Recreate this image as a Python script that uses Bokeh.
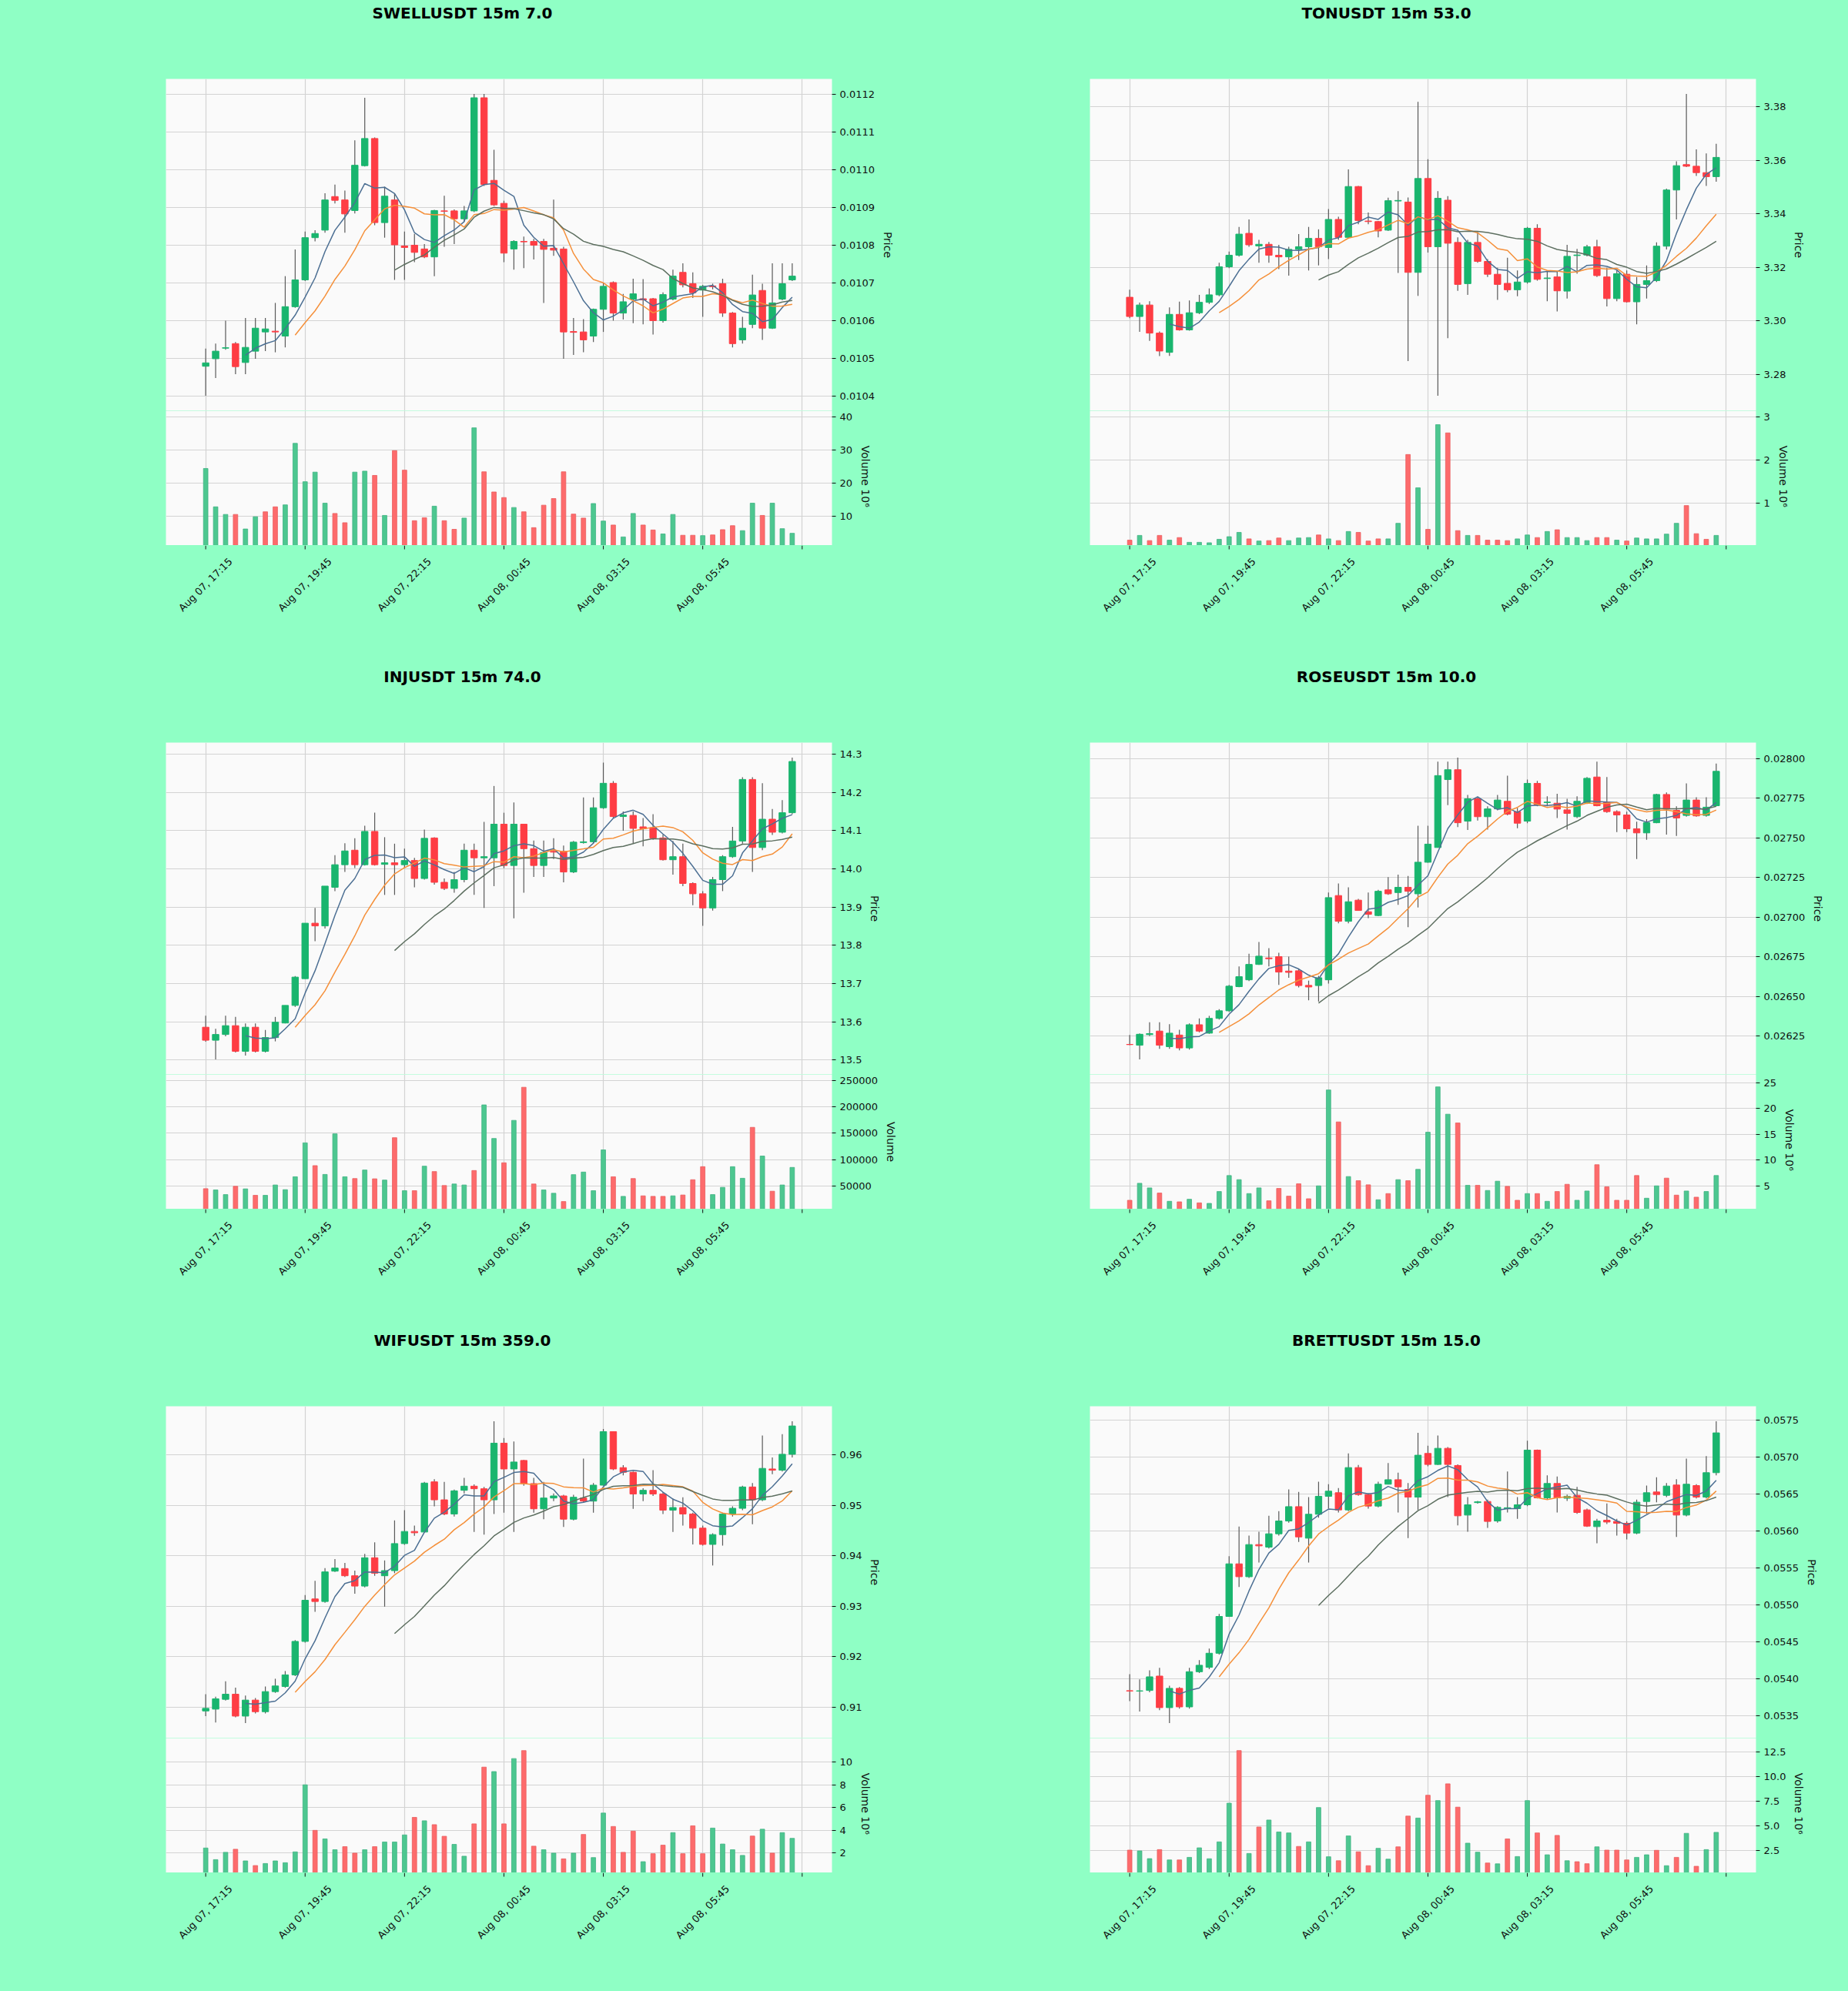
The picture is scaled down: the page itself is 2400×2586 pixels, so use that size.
import math
import numpy as np
import pandas as pd
from bokeh.plotting import figure
from bokeh.layouts import row, column
from bokeh.models import FixedTicker, Range1d, PrintfTickFormatter, ColumnDataSource
from bokeh.embed import file_html
from bokeh.resources import INLINE
from bokeh.core.properties import value

# ---------------- data ----------------
x_tick_positions = [0, 10, 20, 30, 40, 50, 60]
x_tick_labels = ["Aug 07, 17:15", "Aug 07, 19:45", "Aug 07, 22:15", "Aug 08, 00:45",
                 "Aug 08, 03:15", "Aug 08, 05:45", ""]

titles = ["SWELLUSDT 15m 7.0", "TONUSDT 15m 53.0", "INJUSDT 15m 74.0",
          "ROSEUSDT 15m 10.0", "WIFUSDT 15m 359.0", "BRETTUSDT 15m 15.0"]

swell_open = [0.010479, 0.010499, 0.010527, 0.010539, 0.010489, 0.010519, 0.010570, 0.010572, 0.010559, 0.010637,
              0.010708, 0.010820, 0.010840, 0.010929, 0.010920, 0.010892, 0.011011, 0.011083, 0.010860, 0.010920,
              0.010798, 0.010800, 0.010790, 0.010769, 0.010891, 0.010891, 0.010870, 0.010891, 0.011191, 0.010972,
              0.010911, 0.010790, 0.010810, 0.010810, 0.010810, 0.010792, 0.010790, 0.010571, 0.010570, 0.010559,
              0.010630, 0.010701, 0.010620, 0.010657, 0.010658, 0.010658, 0.010600, 0.010657, 0.010728, 0.010698,
              0.010681, 0.010692, 0.010698, 0.010620, 0.010549, 0.010590, 0.010680, 0.010580, 0.010657, 0.010708]
swell_high = [0.010526, 0.010539, 0.010600, 0.010543, 0.010607, 0.010607, 0.010607, 0.010647, 0.010718, 0.010789,
              0.010836, 0.010840, 0.010938, 0.010961, 0.010945, 0.011078, 0.011191, 0.011086, 0.010955, 0.010938,
              0.010836, 0.010830, 0.010803, 0.010894, 0.010931, 0.010895, 0.010904, 0.011201, 0.011201, 0.011053,
              0.010918, 0.010813, 0.010823, 0.010817, 0.010817, 0.010921, 0.010796, 0.010607, 0.010604, 0.010632,
              0.010701, 0.010704, 0.010671, 0.010711, 0.010710, 0.010660, 0.010675, 0.010735, 0.010752, 0.010728,
              0.010695, 0.010698, 0.010711, 0.010623, 0.010610, 0.010722, 0.010698, 0.010752, 0.010752, 0.010752]
swell_low = [0.010401, 0.010448, 0.010523, 0.010458, 0.010458, 0.010499, 0.010519, 0.010516, 0.010529, 0.010634,
             0.010705, 0.010810, 0.010833, 0.010911, 0.010833, 0.010884, 0.011009, 0.010853, 0.010820, 0.010708,
             0.010708, 0.010755, 0.010766, 0.010718, 0.010796, 0.010803, 0.010863, 0.010888, 0.010957, 0.010904,
             0.010755, 0.010735, 0.010739, 0.010762, 0.010647, 0.010772, 0.010499, 0.010509, 0.010516, 0.010543,
             0.010570, 0.010600, 0.010603, 0.010593, 0.010590, 0.010563, 0.010595, 0.010654, 0.010688, 0.010660,
             0.010610, 0.010683, 0.010610, 0.010529, 0.010539, 0.010580, 0.010549, 0.010578, 0.010654, 0.010705]
swell_close = [0.010488, 0.010519, 0.010528, 0.010478, 0.010529, 0.010580, 0.010578, 0.010570, 0.010637, 0.010708,
               0.010820, 0.010831, 0.010920, 0.010919, 0.010883, 0.011012, 0.011083, 0.010860, 0.010930, 0.010801,
               0.010794, 0.010781, 0.010769, 0.010892, 0.010890, 0.010870, 0.010891, 0.011191, 0.010961, 0.010907,
               0.010779, 0.010810, 0.010809, 0.010800, 0.010789, 0.010787, 0.010570, 0.010569, 0.010549, 0.010630,
               0.010691, 0.010620, 0.010650, 0.010671, 0.010655, 0.010600, 0.010669, 0.010718, 0.010695, 0.010674,
               0.010691, 0.010690, 0.010620, 0.010539, 0.010580, 0.010668, 0.010580, 0.010647, 0.010698, 0.010718]
swell_volume_m = [24.4, 12.8, 10.5, 10.5, 6.1, 9.8, 11.3, 12.8, 13.4, 32.0, 20.4, 23.3, 13.9, 10.8, 8.0, 23.3, 23.6, 22.3,
                  10.2, 29.8, 23.9, 8.6, 9.5, 13.0, 8.6, 6.0, 9.4, 36.7, 23.4, 17.3, 15.6, 12.6, 11.3, 6.5, 13.3, 15.3,
                  23.4, 10.6, 9.4, 13.8, 8.5, 7.3, 3.7, 10.8, 7.3, 5.8, 4.6, 10.5, 4.2, 4.2, 4.1, 4.3, 5.9, 7.1, 5.6,
                  13.9, 10.2, 13.9, 6.2, 4.8]

ton_open = [3.3088, 3.3016, 3.3059, 3.2954, 3.2882, 3.3024, 3.2966, 3.3030, 3.3069, 3.3097,
            3.3202, 3.3245, 3.3327, 3.3280, 3.3286, 3.3245, 3.3239, 3.3267, 3.3277, 3.3308,
            3.3274, 3.3379, 3.3312, 3.3502, 3.3373, 3.3371, 3.3339, 3.3448, 3.3444, 3.3181,
            3.3532, 3.3277, 3.3451, 3.3293, 3.3139, 3.3293, 3.3222, 3.3174, 3.3140, 3.3116,
            3.3145, 3.3346, 3.3158, 3.3164, 3.3111, 3.3244, 3.3246, 3.3277, 3.3164, 3.3083,
            3.3174, 3.3071, 3.3136, 3.3150, 3.3279, 3.3489, 3.3584, 3.3578, 3.3554, 3.3539]
ton_high = [3.3116, 3.3068, 3.3073, 3.2960, 3.3050, 3.3072, 3.3076, 3.3097, 3.3121, 3.3217,
            3.3259, 3.3351, 3.3379, 3.3303, 3.3295, 3.3284, 3.3277, 3.3324, 3.3351, 3.3342,
            3.3418, 3.3389, 3.3566, 3.3504, 3.3405, 3.3373, 3.3460, 3.3485, 3.3461, 3.3819,
            3.3604, 3.3485, 3.3466, 3.3312, 3.3303, 3.3332, 3.3231, 3.3198, 3.3236, 3.3188,
            3.3351, 3.3361, 3.3183, 3.3183, 3.3284, 3.3269, 3.3284, 3.3303, 3.3198, 3.3188,
            3.3188, 3.3164, 3.3207, 3.3293, 3.3494, 3.3596, 3.3848, 3.3641, 3.3626, 3.3662]
ton_low = [3.3010, 3.2959, 3.2925, 3.2868, 3.2869, 3.2963, 3.2963, 3.3025, 3.3063, 3.3092,
           3.3197, 3.3240, 3.3277, 3.3217, 3.3217, 3.3193, 3.3169, 3.3227, 3.3188, 3.3207,
           3.3231, 3.3303, 3.3307, 3.3361, 3.3361, 3.3312, 3.3336, 3.3179, 3.2849, 3.3093,
           3.3255, 3.2720, 3.2935, 3.3112, 3.3097, 3.3217, 3.3164, 3.3078, 3.3107, 3.3092,
           3.3139, 3.3150, 3.3073, 3.3035, 3.3083, 3.3176, 3.3241, 3.3164, 3.3054, 3.3073,
           3.3068, 3.2987, 3.3083, 3.3145, 3.3267, 3.3379, 3.3575, 3.3542, 3.3504, 3.3520]
ton_close = [3.3016, 3.3059, 3.2954, 3.2887, 3.3024, 3.2966, 3.3030, 3.3069, 3.3097, 3.3202,
             3.3245, 3.3324, 3.3284, 3.3286, 3.3245, 3.3239, 3.3267, 3.3277, 3.3308, 3.3277,
             3.3379, 3.3312, 3.3502, 3.3375, 3.3371, 3.3336, 3.3449, 3.3450, 3.3181, 3.3532,
             3.3277, 3.3458, 3.3290, 3.3136, 3.3293, 3.3222, 3.3174, 3.3136, 3.3116, 3.3145,
             3.3346, 3.3155, 3.3160, 3.3112, 3.3241, 3.3246, 3.3277, 3.3169, 3.3083, 3.3176,
             3.3071, 3.3136, 3.3150, 3.3279, 3.3489, 3.3580, 3.3578, 3.3554, 3.3539, 3.3611]
ton_volume_m = [0.15, 0.26, 0.14, 0.26, 0.15, 0.21, 0.10, 0.10, 0.09, 0.17, 0.23, 0.33, 0.18, 0.13, 0.14, 0.20, 0.14,
                0.20, 0.21, 0.27, 0.18, 0.14, 0.35, 0.33, 0.13, 0.18, 0.18, 0.54, 2.13, 1.36, 0.40, 2.82, 2.63, 0.37,
                0.26, 0.26, 0.15, 0.15, 0.14, 0.18, 0.27, 0.21, 0.35, 0.39, 0.21, 0.21, 0.14, 0.21, 0.21, 0.15, 0.13,
                0.20, 0.18, 0.18, 0.29, 0.54, 0.95, 0.30, 0.17, 0.26]

inj_open = [13.586, 13.552, 13.567, 13.590, 13.523, 13.586, 13.523, 13.559, 13.597, 13.643,
            13.713, 13.858, 13.851, 13.952, 14.011, 14.049, 14.011, 14.098, 14.012, 14.016,
            14.011, 14.022, 13.975, 14.081, 13.965, 13.949, 13.972, 14.049, 14.029, 14.029,
            14.117, 14.009, 14.117, 14.053, 14.009, 14.046, 14.046, 13.992, 14.069, 14.071,
            14.160, 14.224, 14.137, 14.140, 14.110, 14.108, 14.081, 14.024, 14.032, 13.962,
            13.935, 13.898, 13.972, 14.032, 14.073, 14.234, 14.056, 14.130, 14.096, 14.147]
inj_high = [13.616, 13.582, 13.616, 13.613, 13.596, 13.596, 13.579, 13.613, 13.643, 13.720,
            13.858, 13.898, 13.955, 14.036, 14.067, 14.080, 14.113, 14.147, 14.083, 14.066,
            14.053, 14.029, 14.103, 14.083, 13.975, 13.992, 14.066, 14.066, 14.123, 14.217,
            14.147, 14.174, 14.117, 14.074, 14.074, 14.080, 14.061, 14.073, 14.187, 14.187,
            14.278, 14.230, 14.150, 14.150, 14.133, 14.143, 14.090, 14.073, 14.066, 13.965,
            13.942, 13.979, 14.036, 14.110, 14.240, 14.240, 14.224, 14.157, 14.180, 14.291]
inj_low = [13.548, 13.502, 13.562, 13.520, 13.512, 13.520, 13.520, 13.549, 13.596, 13.639,
           13.713, 13.811, 13.844, 13.942, 13.992, 14.002, 14.009, 14.009, 13.932, 13.932,
           14.002, 13.952, 13.972, 13.959, 13.945, 13.938, 13.965, 13.932, 13.898, 13.955,
           14.002, 13.871, 13.938, 13.979, 13.979, 14.026, 13.965, 13.989, 14.066, 14.066,
           14.157, 14.133, 14.100, 14.066, 14.059, 14.076, 14.022, 13.985, 13.955, 13.905,
           13.851, 13.891, 13.942, 14.029, 14.066, 13.992, 14.049, 14.089, 14.093, 14.143]
inj_close = [13.552, 13.567, 13.590, 13.523, 13.586, 13.523, 13.559, 13.599, 13.643, 13.717,
             13.858, 13.851, 13.955, 14.011, 14.047, 14.011, 14.098, 14.011, 14.016, 14.011,
             14.022, 13.975, 14.080, 13.965, 13.949, 13.972, 14.049, 14.029, 14.032, 14.117,
             14.009, 14.117, 14.053, 14.009, 14.043, 14.044, 13.992, 14.070, 14.071, 14.160,
             14.224, 14.137, 14.141, 14.106, 14.105, 14.081, 14.024, 14.032, 13.962, 13.935,
             13.898, 13.972, 14.032, 14.073, 14.234, 14.056, 14.130, 14.096, 14.147, 14.281]
inj_volume = [45000, 42600, 33800, 49500, 44600, 32400, 32400, 52000, 43100, 67600, 131900, 88700, 72000, 149000,
              67600, 64200, 80400, 63700, 61300, 141700, 41200, 41200, 87700, 77500, 51000, 53900, 52000, 79400,
              203900, 140200, 94100, 174500, 237300, 53900, 42600, 36300, 20600, 71600, 76500, 41200, 118600, 67600,
              30400, 64200, 31400, 30400, 30400, 31400, 33000, 62000, 86700, 33800, 47500, 86700, 64700, 161300,
              106900, 40200, 52000, 85300]

rose_open = [0.026198, 0.026193, 0.026260, 0.026282, 0.026184, 0.026257, 0.026176, 0.026322, 0.026269, 0.026362,
             0.026410, 0.026562, 0.026605, 0.026702, 0.026743, 0.026751, 0.026660, 0.026662, 0.026570, 0.026569,
             0.026605, 0.027136, 0.026974, 0.027107, 0.027034, 0.027010, 0.027172, 0.027155, 0.027188, 0.027147,
             0.027346, 0.027439, 0.027867, 0.027929, 0.027605, 0.027746, 0.027633, 0.027682, 0.027730, 0.027665,
             0.027605, 0.027843, 0.027722, 0.027718, 0.027676, 0.027633, 0.027722, 0.027883, 0.027725, 0.027665,
             0.027644, 0.027557, 0.027531, 0.027595, 0.027773, 0.027673, 0.027641, 0.027738, 0.027641, 0.027702]
rose_high = [0.026257, 0.026267, 0.026338, 0.026338, 0.026325, 0.026290, 0.026330, 0.026362, 0.026378, 0.026420,
             0.026573, 0.026689, 0.026770, 0.026843, 0.026805, 0.026775, 0.026751, 0.026676, 0.026600, 0.026630,
             0.027155, 0.027212, 0.027188, 0.027115, 0.027155, 0.027172, 0.027252, 0.027268, 0.027260, 0.027576,
             0.027576, 0.027980, 0.027980, 0.028005, 0.027770, 0.027758, 0.027699, 0.027770, 0.027892, 0.027689,
             0.027867, 0.027859, 0.027762, 0.027778, 0.027746, 0.027762, 0.027883, 0.027980, 0.027883, 0.027673,
             0.027665, 0.027601, 0.027617, 0.027778, 0.027786, 0.027699, 0.027843, 0.027755, 0.027755, 0.027968]
rose_low = [0.026193, 0.026104, 0.026250, 0.026170, 0.026170, 0.026160, 0.026165, 0.026274, 0.026265, 0.026355,
            0.026403, 0.026559, 0.026597, 0.026699, 0.026689, 0.026573, 0.026618, 0.026557, 0.026476, 0.026468,
            0.026581, 0.026961, 0.026961, 0.027042, 0.026994, 0.027006, 0.027141, 0.027077, 0.026937, 0.027061,
            0.027343, 0.027439, 0.027706, 0.027568, 0.027549, 0.027609, 0.027552, 0.027673, 0.027641, 0.027560,
            0.027592, 0.027699, 0.027699, 0.027625, 0.027552, 0.027625, 0.027713, 0.027699, 0.027657, 0.027536,
            0.027536, 0.027366, 0.027488, 0.027592, 0.027520, 0.027512, 0.027633, 0.027633, 0.027633, 0.027699]
rose_close = [0.026197, 0.026262, 0.026266, 0.026193, 0.026269, 0.026176, 0.026322, 0.026282, 0.026362, 0.026410,
              0.026565, 0.026625, 0.026702, 0.026754, 0.026738, 0.026654, 0.026652, 0.026569, 0.026560, 0.026618,
              0.027123, 0.026974, 0.027097, 0.027042, 0.027018, 0.027163, 0.027147, 0.027188, 0.027163, 0.027346,
              0.027460, 0.027892, 0.027929, 0.027595, 0.027746, 0.027633, 0.027682, 0.027738, 0.027649, 0.027592,
              0.027843, 0.027706, 0.027725, 0.027681, 0.027654, 0.027730, 0.027875, 0.027702, 0.027665, 0.027644,
              0.027557, 0.027531, 0.027595, 0.027773, 0.027681, 0.027625, 0.027738, 0.027638, 0.027693, 0.027919]
rose_volume_m = [2.2, 5.5, 4.6, 3.6, 2.0, 1.9, 2.4, 1.7, 1.6, 3.9, 7.0, 6.2, 3.5, 4.6, 2.1, 4.5, 3.0, 5.4, 2.5, 5.0,
                 23.6, 17.4, 6.8, 6.0, 5.2, 2.3, 3.5, 6.2, 6.0, 8.2, 15.4, 24.2, 18.9, 17.2, 5.1, 5.1, 4.1, 5.9, 4.9,
                 2.2, 3.5, 3.5, 2.0, 3.9, 5.3, 2.2, 4.0, 9.1, 4.8, 2.2, 2.2, 7.0, 2.6, 5.0, 6.5, 3.2, 4.0, 2.8, 3.9, 7.0]

wif_open = [0.90923, 0.90959, 0.91153, 0.91255, 0.90821, 0.91138, 0.90908, 0.91306, 0.91408, 0.91638,
            0.92301, 0.93143, 0.93092, 0.93694, 0.93745, 0.93602, 0.93398, 0.93959, 0.93602, 0.93704,
            0.94240, 0.94480, 0.94469, 0.95464, 0.95107, 0.94827, 0.95296, 0.95378, 0.95327, 0.95107,
            0.96230, 0.95719, 0.95888, 0.95429, 0.94929, 0.95143, 0.95184, 0.94724, 0.95143, 0.95082,
            0.95398, 0.96459, 0.95745, 0.95653, 0.95224, 0.95296, 0.95224, 0.94903, 0.94954, 0.94827,
            0.94546, 0.94224, 0.94418, 0.94827, 0.94939, 0.95362, 0.95107, 0.95719, 0.95694, 0.96010]
wif_high = [0.91255, 0.91204, 0.91510, 0.91383, 0.91229, 0.91179, 0.91408, 0.91561, 0.91714, 0.92327,
            0.93219, 0.93500, 0.93755, 0.93934, 0.93857, 0.93704, 0.94036, 0.94265, 0.93908, 0.94699,
            0.94903, 0.94597, 0.95464, 0.95515, 0.95464, 0.95311, 0.95541, 0.95413, 0.95362, 0.96663,
            0.96332, 0.96265, 0.95898, 0.95541, 0.95464, 0.95235, 0.95209, 0.95209, 0.95923, 0.95439,
            0.96510, 0.96459, 0.95796, 0.95668, 0.95337, 0.95694, 0.95260, 0.95133, 0.95158, 0.94852,
            0.94597, 0.94444, 0.94852, 0.94980, 0.95388, 0.95439, 0.96383, 0.95949, 0.96408, 0.96663]
wif_low = [0.90821, 0.90694, 0.91128, 0.90796, 0.90684, 0.90872, 0.90872, 0.91281, 0.91383, 0.91612,
           0.92276, 0.92888, 0.93066, 0.93679, 0.93577, 0.93245, 0.93372, 0.93602, 0.92990, 0.93653,
           0.94214, 0.94393, 0.94469, 0.94980, 0.94801, 0.94776, 0.95235, 0.94469, 0.94418, 0.94827,
           0.94852, 0.94469, 0.95388, 0.94852, 0.94724, 0.95082, 0.94571, 0.94699, 0.95056, 0.94852,
           0.95388, 0.95694, 0.95592, 0.94929, 0.95082, 0.95184, 0.94827, 0.94469, 0.94597, 0.94224,
           0.94199, 0.93806, 0.94199, 0.94776, 0.94903, 0.94622, 0.95082, 0.95617, 0.95668, 0.95949]
wif_close = [0.90974, 0.91163, 0.91255, 0.90821, 0.91138, 0.90908, 0.91306, 0.91418, 0.91638, 0.92301,
             0.93117, 0.93092, 0.93679, 0.93755, 0.93602, 0.93398, 0.93959, 0.93653, 0.93704, 0.94240,
             0.94480, 0.94454, 0.95439, 0.95107, 0.94827, 0.95286, 0.95378, 0.95327, 0.95107, 0.96230,
             0.95719, 0.95857, 0.95429, 0.94929, 0.95143, 0.95184, 0.94724, 0.95158, 0.95082, 0.95398,
             0.96459, 0.95719, 0.95653, 0.95224, 0.95296, 0.95224, 0.94903, 0.94954, 0.94827, 0.94546,
             0.94224, 0.94418, 0.94827, 0.94939, 0.95362, 0.95107, 0.95730, 0.95694, 0.96010, 0.96571]
wif_volume_m = [2.45, 1.43, 2.07, 2.34, 1.32, 0.91, 1.09, 1.32, 1.16, 2.11, 8.0, 4.0, 3.25, 2.3, 2.57, 2.0, 2.3,
                2.57, 2.98, 2.98, 3.6, 5.14, 4.84, 4.5, 3.48, 2.77, 1.73, 4.57, 9.55, 9.16, 4.57, 10.3, 11.0, 2.61,
                2.3, 2.0, 1.5, 2.0, 3.64, 1.61, 5.52, 4.34, 2.07, 3.93, 1.25, 1.95, 2.7, 3.8, 1.95, 4.4, 1.95, 4.2,
                2.8, 2.3, 1.8, 3.5, 4.1, 2.0, 3.8, 3.3]

brett_open = [0.053842, 0.053838, 0.053846, 0.054040, 0.053614, 0.053874, 0.053624, 0.054099, 0.054159, 0.054349,
              0.054846, 0.055557, 0.055383, 0.055817, 0.055783, 0.055963, 0.056136, 0.056330, 0.055904, 0.056227,
              0.056470, 0.056518, 0.056286, 0.056858, 0.056494, 0.056338, 0.056633, 0.056694, 0.056563, 0.056459,
              0.057049, 0.056900, 0.057118, 0.056886, 0.056216, 0.056385, 0.056400, 0.056136, 0.056303, 0.056303,
              0.056355, 0.057094, 0.056449, 0.056643, 0.056444, 0.056483, 0.056286, 0.056060, 0.056147, 0.056130,
              0.056105, 0.055973, 0.056400, 0.056528, 0.056483, 0.056622, 0.056216, 0.056615, 0.056459, 0.056789]
brett_high = [0.054065, 0.053996, 0.054117, 0.054152, 0.053909, 0.053891, 0.054152, 0.054256, 0.054412, 0.054880,
              0.055661, 0.056060, 0.055939, 0.055991, 0.056206, 0.056268, 0.056563, 0.056528, 0.056459, 0.056667,
              0.056633, 0.056580, 0.057049, 0.056893, 0.056511, 0.056667, 0.056920, 0.056789, 0.056650, 0.057327,
              0.057153, 0.057292, 0.057136, 0.056900, 0.056459, 0.056408, 0.056424, 0.056338, 0.056806, 0.056459,
              0.057222, 0.057101, 0.056754, 0.056737, 0.056494, 0.056598, 0.056303, 0.056164, 0.056372, 0.056164,
              0.056130, 0.056424, 0.056615, 0.056726, 0.056650, 0.056702, 0.056980, 0.056633, 0.057014, 0.057483]
brett_low = [0.053701, 0.053562, 0.053822, 0.053579, 0.053406, 0.053600, 0.053600, 0.054082, 0.054134, 0.054332,
             0.054846, 0.055245, 0.055366, 0.055574, 0.055765, 0.055939, 0.056112, 0.055852, 0.055574, 0.056181,
             0.056303, 0.056251, 0.056268, 0.056476, 0.056303, 0.056320, 0.056633, 0.056251, 0.055904, 0.056286,
             0.056875, 0.056893, 0.056459, 0.056077, 0.055991, 0.056370, 0.056043, 0.056112, 0.056251, 0.056164,
             0.056338, 0.056442, 0.056424, 0.056251, 0.056407, 0.056234, 0.056055, 0.055835, 0.056095, 0.055939,
             0.055887, 0.055956, 0.056234, 0.056390, 0.056459, 0.055921, 0.056199, 0.056442, 0.056442, 0.056754]
brett_close = [0.053839, 0.053840, 0.054030, 0.053614, 0.053874, 0.053624, 0.054099, 0.054186, 0.054349, 0.054846,
               0.055557, 0.055383, 0.055817, 0.055800, 0.055963, 0.056136, 0.056330, 0.055921, 0.056227, 0.056470,
               0.056539, 0.056286, 0.056858, 0.056494, 0.056338, 0.056633, 0.056694, 0.056598, 0.056459, 0.057025,
               0.056900, 0.057118, 0.056900, 0.056206, 0.056355, 0.056395, 0.056130, 0.056320, 0.056315, 0.056355,
               0.057094, 0.056449, 0.056643, 0.056449, 0.056470, 0.056251, 0.056067, 0.056136, 0.056122, 0.056105,
               0.055973, 0.056390, 0.056518, 0.056494, 0.056608, 0.056216, 0.056633, 0.056459, 0.056789, 0.057327]
brett_volume_m = [2.57, 2.49, 1.71, 2.62, 1.58, 1.58, 1.84, 2.8, 1.7, 3.4, 7.3, 12.6, 2.23, 4.9, 5.6, 4.4, 4.3, 2.94,
                  3.4, 6.86, 1.9, 1.5, 4.0, 2.4, 1.0, 2.75, 1.66, 2.9, 6.0, 5.8, 8.1, 7.56, 9.25, 6.9, 3.27, 2.36,
                  1.27, 1.19, 3.7, 1.92, 7.56, 4.3, 2.1, 4.05, 1.5, 1.4, 1.2, 2.9, 2.57, 2.57, 1.58, 1.84, 2.1, 2.55,
                  1.0, 1.84, 4.26, 0.94, 2.62, 4.36]

swell_price_ticks = [0.0104, 0.0105, 0.0106, 0.0107, 0.0108, 0.0109, 0.0110, 0.0111, 0.0112]
ton_price_ticks = [3.28, 3.30, 3.32, 3.34, 3.36, 3.38]
inj_price_ticks = [13.5, 13.6, 13.7, 13.8, 13.9, 14.0, 14.1, 14.2, 14.3]
rose_price_ticks = [0.02625, 0.0265, 0.02675, 0.027, 0.02725, 0.0275, 0.02775, 0.028]
wif_price_ticks = [0.91, 0.92, 0.93, 0.94, 0.95, 0.96]
brett_price_ticks = [0.0535, 0.054, 0.0545, 0.055, 0.0555, 0.056, 0.0565, 0.057, 0.0575]

swell_vol_ticks = [10, 20, 30, 40]
ton_vol_ticks = [1, 2, 3]
inj_vol_ticks = [50000, 100000, 150000, 200000, 250000]
rose_vol_ticks = [5, 10, 15, 20, 25]
wif_vol_ticks = [2, 4, 6, 8, 10]
brett_vol_ticks = [2.5, 5.0, 7.5, 10.0, 12.5]

# ---------------- style ----------------
MINT = "#8fffc5"
PANEL_BG = "#fafafa"
GRID = "#d3d3d3"
UP = "#19b56e"
DOWN = "#fe3d44"
WICK = "#5a5a5a"
VUP = "#4dc790"
VDOWN = "#fd6b6c"
VUP_EDGE = "#3fb283"
VDOWN_EDGE = "#ea5d5e"
MA_COLORS = {5: "#4c6f93", 10: "#f5903a", 20: "#5d6f60"}
FONT = "DejaVu Sans"
TEXT = "#101010"

CELL_W = 1200
TITLE_H = 102
TITLE_CX = 600
PRICE_H = 431
VOL_H = 175
DATE_H = 154
FRAME_W = 865
LEFT_B = 215
RIGHT_B = CELL_W - LEFT_B - FRAME_W
X_RANGE = (-4.0, 63.0)
TICK_FONT_PX = 13
EDGE_CLEAR_PX = 8

panels = [
    dict(title=titles[0], o=swell_open, h=swell_high, l=swell_low, c=swell_close, v=swell_volume_m,
         pt=swell_price_ticks, pf="%.4f", vt=swell_vol_ticks, vf="%.0f", vl="Volume  10\u2076"),
    dict(title=titles[1], o=ton_open, h=ton_high, l=ton_low, c=ton_close, v=ton_volume_m,
         pt=ton_price_ticks, pf="%.2f", vt=ton_vol_ticks, vf="%.0f", vl="Volume  10\u2076"),
    dict(title=titles[2], o=inj_open, h=inj_high, l=inj_low, c=inj_close, v=inj_volume,
         pt=inj_price_ticks, pf="%.1f", vt=inj_vol_ticks, vf="%.0f", vl="Volume"),
    dict(title=titles[3], o=rose_open, h=rose_high, l=rose_low, c=rose_close, v=rose_volume_m,
         pt=rose_price_ticks, pf="%.5f", vt=rose_vol_ticks, vf="%.0f", vl="Volume  10\u2076"),
    dict(title=titles[4], o=wif_open, h=wif_high, l=wif_low, c=wif_close, v=wif_volume_m,
         pt=wif_price_ticks, pf="%.2f", vt=wif_vol_ticks, vf="%.0f", vl="Volume  10\u2076"),
    dict(title=titles[5], o=brett_open, h=brett_high, l=brett_low, c=brett_close, v=brett_volume_m,
         pt=brett_price_ticks, pf="%.4f", vt=brett_vol_ticks, vf="%.1f", vl="Volume  10\u2076"),
]


def text_width(s, px=TICK_FONT_PX):
    w = 0.0
    for ch in s:
        w += 0.318 if ch in ".,: " else 0.636
    return w * px


def clear_top(y0, y1, ticks, height_px):
    """Raise the range top just enough that the top tick label is not cut by the panel edge."""
    inside = [t for t in ticks if y0 <= t <= y1]
    if not inside:
        return y1
    top_tick = max(inside)
    frac = EDGE_CLEAR_PX / float(height_px)
    need = (top_tick - frac * y0) / (1.0 - frac)
    return max(y1, need)


def style_axis(ax, label):
    ax.axis_line_color = None
    ax.major_tick_line_color = TEXT
    ax.major_tick_out = 5
    ax.major_tick_in = 0
    ax.minor_tick_line_color = None
    ax.major_label_text_font = FONT
    ax.major_label_text_font_size = "%dpx" % TICK_FONT_PX
    ax.major_label_text_color = TEXT
    ax.major_label_standoff = 5
    ax.axis_label = label
    ax.axis_label_text_font = FONT
    ax.axis_label_text_font_size = "14px"
    ax.axis_label_text_font_style = "normal"
    ax.axis_label_text_color = TEXT
    ax.axis_label_standoff = 6


def plain_fig(height, xr, yr):
    f = figure(frame_width=FRAME_W, frame_height=height, x_range=xr, y_range=yr,
               toolbar_location=None, output_backend="svg", x_axis_location=None, y_axis_location=None,
               min_border_left=LEFT_B, min_border_right=RIGHT_B, min_border_top=0, min_border_bottom=0,
               background_fill_color=MINT, border_fill_color=MINT, outline_line_color=None)
    f.grid.visible = False
    return f


def make_cell(pn):
    o = np.array(pn["o"]); h = np.array(pn["h"]); l = np.array(pn["l"]); c = np.array(pn["c"])
    v = np.array(pn["v"], dtype=float)
    n = len(c)
    xs = np.arange(n)
    up = c >= o

    # title strip: x data == pixel position inside the cell
    t = plain_fig(TITLE_H, Range1d(LEFT_B, LEFT_B + FRAME_W), Range1d(0, TITLE_H))
    t.text(x=[TITLE_CX], y=[TITLE_H - 16], text=[pn["title"]], text_align="center", text_baseline="middle",
           text_font=value(FONT), text_font_style="bold", text_font_size="20px", text_color="#000000")

    # price panel
    lo, hi = float(l.min()), float(h.max())
    pad = 0.05 * (hi - lo)
    xr = Range1d(*X_RANGE)
    p = figure(frame_width=FRAME_W, frame_height=PRICE_H, x_range=xr, y_range=Range1d(lo - pad, hi + pad),
               toolbar_location=None, output_backend="svg", x_axis_location=None, y_axis_location="right",
               min_border_left=LEFT_B, min_border_right=RIGHT_B, min_border_top=0, min_border_bottom=0,
               background_fill_color=PANEL_BG, border_fill_color=MINT, outline_line_color=None)
    p.xgrid.ticker = FixedTicker(ticks=x_tick_positions)
    p.ygrid.ticker = FixedTicker(ticks=pn["pt"])
    p.grid.grid_line_color = GRID
    p.grid.grid_line_width = 1.2
    ya = p.yaxis[0]
    ya.ticker = FixedTicker(ticks=pn["pt"])
    ya.formatter = PrintfTickFormatter(format=pn["pf"])
    style_axis(ya, "Price")

    src = ColumnDataSource(dict(x=xs, top=np.maximum(o, c), bottom=np.minimum(o, c), high=h, low=l,
                                color=[UP if u else DOWN for u in up]))
    p.segment(x0="x", y0="low", x1="x", y1="high", source=src, line_color=WICK, line_width=1.2)
    p.vbar(x="x", top="top", bottom="bottom", width=0.65, fill_color="color", line_color="color",
           line_width=1, source=src)
    cs = pd.Series(c)
    for period in (5, 10, 20):
        ma = cs.rolling(period).mean().to_numpy()
        p.line(xs, ma, line_color=MA_COLORS[period], line_width=1.5)

    # volume panel (colour by close vs previous close)
    vup = [bool(up[0])] + [bool(c[i] >= c[i - 1]) for i in range(1, n)]
    vsrc = ColumnDataSource(dict(x=xs, top=v, fill=[VUP if u else VDOWN for u in vup],
                                 edge=[VUP_EDGE if u else VDOWN_EDGE for u in vup]))
    vmin, vmax = float(v.min()), float(v.max())
    y0 = 0.3 * vmin
    y1 = clear_top(y0, 1.1 * vmax, pn["vt"], VOL_H)
    vfig = figure(frame_width=FRAME_W, frame_height=VOL_H, x_range=xr, y_range=Range1d(y0, y1),
                  toolbar_location=None, output_backend="svg", x_axis_location=None, y_axis_location="right",
                  min_border_left=LEFT_B, min_border_right=RIGHT_B, min_border_top=0, min_border_bottom=0,
                  background_fill_color=PANEL_BG, border_fill_color=MINT, outline_line_color=None)
    vfig.xgrid.ticker = FixedTicker(ticks=x_tick_positions)
    vfig.ygrid.ticker = FixedTicker(ticks=pn["vt"])
    vfig.grid.grid_line_color = GRID
    vfig.grid.grid_line_width = 1.2
    vfig.vbar(x="x", top="top", bottom=0, width=0.45, fill_color="fill", line_color="edge", line_width=0.8,
              source=vsrc)
    vy = vfig.yaxis[0]
    vy.ticker = FixedTicker(ticks=pn["vt"])
    vy.formatter = PrintfTickFormatter(format=pn["vf"])
    style_axis(vy, pn["vl"])

    # date strip: tick marks and 45-degree labels centred under each tick
    d = plain_fig(DATE_H, xr, Range1d(0, DATE_H))
    d.segment(x0=x_tick_positions, y0=[DATE_H] * len(x_tick_positions),
              x1=x_tick_positions, y1=[DATE_H - 5] * len(x_tick_positions), line_color=TEXT, line_width=1)
    lab_x = [pos for pos, lab in zip(x_tick_positions, x_tick_labels) if lab]
    lab_t = [lab for lab in x_tick_labels if lab]
    lab_off = [0.354 * text_width(lab) for lab in lab_t]
    d.text(x=lab_x, y=[DATE_H - 18.5] * len(lab_x), text=lab_t, x_offset=lab_off, angle=math.pi / 4,
           text_align="right", text_baseline="middle", text_font=value(FONT),
           text_font_size="%dpx" % TICK_FONT_PX, text_color=TEXT)

    return column(t, p, vfig, d, spacing=0)


rows = []
for r in range(3):
    rows.append(row(make_cell(panels[2 * r]), make_cell(panels[2 * r + 1]), spacing=0))
layout = column(*rows, spacing=0)

TEMPLATE = """
{% block preamble %}{{ super() }}<style>html, body { margin: 0 !important; padding: 0 !important; background: #8fffc5 !important; }</style>{% endblock %}
"""
try:
    html = file_html(layout, INLINE, title="charts", template=TEMPLATE)
except Exception:
    html = file_html(layout, INLINE, title="charts")
open("out.html", "w").write(html)
